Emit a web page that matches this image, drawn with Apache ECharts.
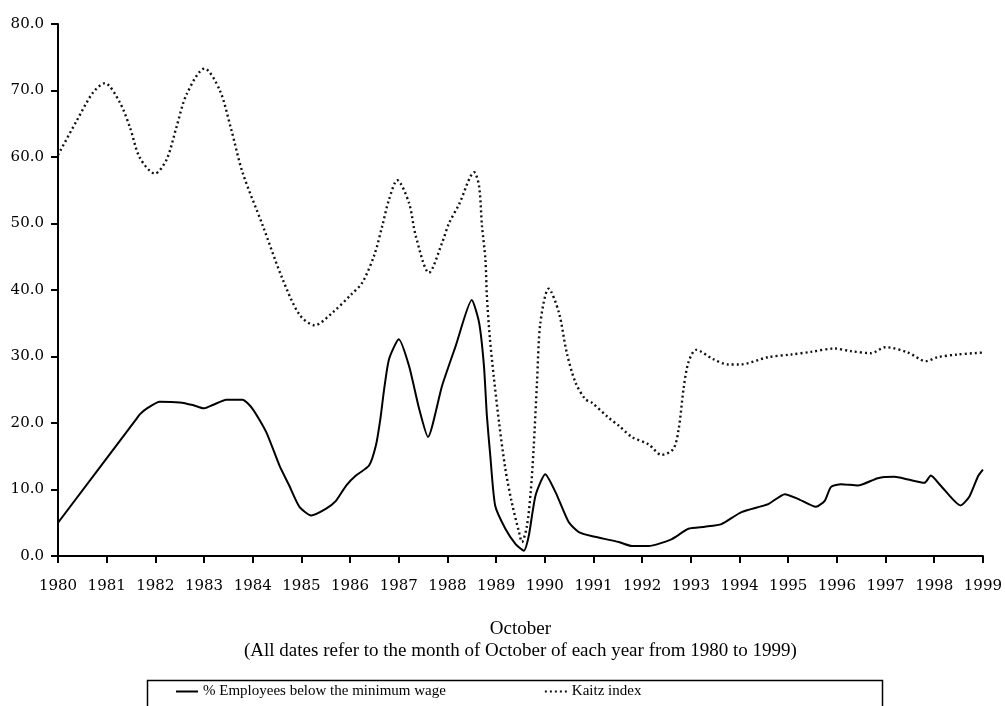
<!DOCTYPE html>
<html>
<head>
<meta charset="utf-8">
<script src="https://cdn.jsdelivr.net/npm/echarts@6/dist/echarts.min.js"></script>
<style>
html,body{margin:0;padding:0;background:#fff;}
#chart{width:1005px;height:706px;}
</style>
</head>
<body>
<div id="chart"></div>
<script>
// ---- Data ----
const seriesNames = ['% Employees below the minimum wage', 'Kaitz index'];
const axisTitle = 'October\n(All dates refer to the month of October of each year from 1980 to 1999)';

const empYears = [1980.0, 1981.6, 1981.68, 1981.85, 1982.09, 1982.5, 1982.77, 1983.0, 1983.18, 1983.46, 1983.79, 1984.0,
  1984.28, 1984.55, 1984.75, 1984.96, 1985.2, 1985.5, 1985.71, 1985.92, 1986.12, 1986.39, 1986.53, 1986.62, 1986.7, 1986.8,
  1987.0, 1987.21, 1987.42, 1987.6, 1987.89, 1988.17, 1988.5, 1988.65, 1988.75, 1988.81, 1988.88, 1988.98, 1989.19, 1989.4,
  1989.57, 1989.67, 1989.81, 1990.01, 1990.22, 1990.49, 1990.7, 1990.96, 1991.52, 1991.79, 1992.13, 1992.6, 1992.95,
  1993.29, 1993.63, 1994.04, 1994.59, 1994.93, 1995.2, 1995.57, 1995.75, 1995.88, 1996.09, 1996.43, 1996.84, 1997.18,
  1997.46, 1997.8, 1997.93, 1998.13, 1998.54, 1998.72, 1998.9, 1999.0];
const empValues = [5.0, 20.5, 21.3, 22.3, 23.2, 23.1, 22.7, 22.2, 22.7, 23.5, 23.5, 22.1,
  18.6, 13.6, 10.6, 7.4, 6.1, 7.1, 8.3, 10.6, 12.1, 13.6, 16.6, 20.5, 25.1, 29.6,
  32.6, 28.6, 22.1, 17.9, 25.6, 31.6, 38.5, 35.1, 28.6, 21.1, 15.1, 7.6, 4.1, 1.8,
  0.8, 3.0, 9.1, 12.3, 9.6, 5.1, 3.6, 3.0, 2.1, 1.5, 1.5, 2.5, 4.1,
  4.4, 4.8, 6.6, 7.8, 9.3, 8.6, 7.4, 8.3, 10.4, 10.8, 10.6, 11.7, 11.9,
  11.5, 11.0, 12.1, 10.6, 7.6, 8.9, 12.0, 13.0];

const kaitzYears = [1980.0, 1980.38, 1980.72, 1980.96, 1981.27, 1981.48, 1981.68, 1981.99, 1982.23, 1982.43, 1982.64, 1983.01,
  1983.32, 1983.56, 1983.79, 1984.2, 1984.61, 1984.96, 1985.27, 1985.64, 1986.02, 1986.25, 1986.5, 1986.66, 1986.8, 1986.97,
  1987.21, 1987.35, 1987.62, 1987.89, 1988.03, 1988.24, 1988.55, 1988.65, 1988.71, 1988.78, 1988.81, 1988.87, 1988.95,
  1989.06, 1989.19, 1989.32, 1989.47, 1989.53, 1989.63, 1989.71, 1989.77, 1989.84, 1989.91, 1990.08, 1990.29, 1990.45,
  1990.63, 1990.83, 1990.96, 1991.31, 1991.52, 1991.79, 1992.13, 1992.4, 1992.64, 1992.75, 1992.85, 1992.95, 1993.11,
  1993.46, 1993.77, 1994.0, 1994.59, 1995.06, 1995.47, 1995.95, 1996.29, 1996.7, 1997.0, 1997.46, 1997.83, 1998.07,
  1998.48, 1999.0];
const kaitzValues = [60.3, 65.4, 69.7, 71.1, 68.2, 64.4, 59.9, 57.5, 59.6, 64.4, 69.4, 73.3,
  70.1, 64.1, 57.7, 49.8, 41.7, 36.3, 34.7, 36.6, 39.3, 41.1, 45.3, 49.6, 53.6, 56.5,
  53.1, 48.1, 42.6, 47.1, 50.0, 52.9, 57.7, 55.6, 49.6, 44.6, 39.1, 32.9, 27.1,
  20.1, 13.1, 8.1, 3.6, 2.1, 4.4, 9.6, 16.1, 26.1, 35.1, 40.2, 36.6, 30.6,
  26.1, 23.6, 23.1, 20.8, 19.6, 17.9, 16.8, 15.2, 16.1, 19.1, 25.1, 29.1, 31.0,
  29.6, 28.8, 28.8, 29.9, 30.3, 30.7, 31.2, 30.8, 30.5, 31.4, 30.6, 29.3, 29.9,
  30.3, 30.6];

const empData = empYears.map((y, i) => [y, empValues[i]]);
const kaitzData = kaitzYears.map((y, i) => [y, kaitzValues[i]]);

const tickFont = 'DejaVu Serif';
const textFont = 'Liberation Serif';

const chart = echarts.init(document.getElementById('chart'), null, {renderer: 'canvas'});
chart.setOption({
  animation: false,
  backgroundColor: '#fff',
  grid: {left: 58, right: 20, top: 24, bottom: 150, containLabel: false},
  xAxis: {
    type: 'value', min: 1980, max: 1999, interval: 1,
    name: axisTitle, nameLocation: 'middle', nameGap: 62,
    nameTextStyle: {fontFamily: textFont, fontSize: 19, color: '#000', lineHeight: 22},
    axisLine: {onZero: false, lineStyle: {color: '#000', width: 2}},
    axisTick: {show: true, length: 7, lineStyle: {color: '#000', width: 2}},
    axisLabel: {fontFamily: tickFont, fontSize: 15, color: '#000', margin: 23,
      formatter: v => String(Math.round(v))},
    splitLine: {show: false}
  },
  yAxis: {
    type: 'value', min: 0, max: 80, interval: 10,
    axisLine: {show: true, lineStyle: {color: '#000', width: 2}},
    axisTick: {show: true, length: 7, lineStyle: {color: '#000', width: 2}},
    axisLabel: {fontFamily: tickFont, fontSize: 15, color: '#000', margin: 14,
      formatter: v => v.toFixed(1)},
    splitLine: {show: false}
  },
  legend: {
    left: 175, top: 684, padding: 0, itemGap: 98, itemWidth: 22, itemHeight: 14,
    textStyle: {fontFamily: textFont, fontSize: 15, color: '#000'},
    itemStyle: {opacity: 0},
    data: seriesNames
  },
  graphic: [{
    type: 'rect', left: 145, top: 678, silent: true,
    shape: {width: 735, height: 40},
    style: {fill: 'none', stroke: '#000', lineWidth: 1.5}
  }],
  series: [
    {
      name: seriesNames[0], type: 'line', data: empData, showSymbol: false, symbol: 'none',
      smooth: 0.2, lineStyle: {color: '#000', width: 2}, itemStyle: {color: '#000'}, z: 3
    },
    {
      name: seriesNames[1], type: 'line', data: kaitzData, showSymbol: false, symbol: 'none',
      smooth: 0.3, lineStyle: {color: '#111', width: 2.4, type: [2, 3]}, itemStyle: {color: '#000'}, z: 2
    }
  ]
});
</script>
</body>
</html>
